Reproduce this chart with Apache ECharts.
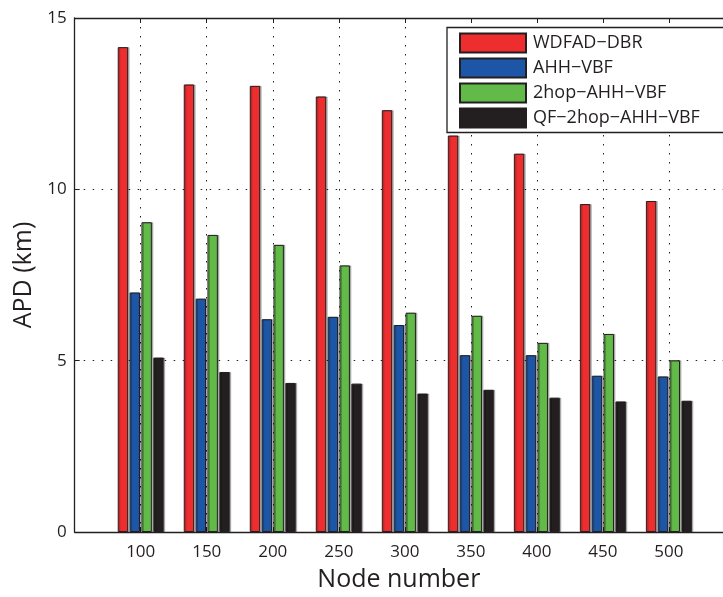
<!DOCTYPE html>
<html><head><meta charset="utf-8">
<script src="https://cdn.jsdelivr.net/npm/echarts@6/dist/echarts.min.js"></script>
<style>html,body{margin:0;padding:0;background:#fff}#c{width:723px;height:597px}</style>
</head><body><div id="c"></div>
<script>
const categories = [100, 150, 200, 250, 300, 350, 400, 450, 500];
const seriesNames = ['WDFAD\u2212DBR','AHH\u2212VBF','2hop\u2212AHH\u2212VBF','QF\u22122hop\u2212AHH\u2212VBF'];
const wdfad = [14.15, 13.06, 13.02, 12.71, 12.31, 11.57, 11.04, 9.57, 9.66];
const ahh = [6.99, 6.81, 6.21, 6.28, 6.04, 5.16, 5.16, 4.56, 4.54];
const hop2 = [9.04, 8.67, 8.38, 7.78, 6.40, 6.31, 5.52, 5.78, 5.01];
const qf = [5.09, 4.67, 4.35, 4.33, 4.04, 4.15, 3.92, 3.81, 3.83];
const yTicks = [0, 5, 10, 15];
const xTicks = [50, 541];   // x range (axis extends beyond the cropped right edge)
const colors = ['#EE2D2E', '#1D56A6', '#62BA48', '#231F20'];

const FONT = '"Open Sans", sans-serif';
const chart = echarts.init(document.getElementById('c'));
const gridLine = {show: true, lineStyle: {color: '#231F20', type: [1.5, 7.5], width: 1}};
const allData = [wdfad, ahh, hop2, qf];
const xAxisBase = {
  type: 'value', min: xTicks[0], max: xTicks[1], interval: 50,
  axisLine: {show: true, onZero: false, lineStyle: {color: '#231F20', width: 1.3}},
  axisTick: {show: true, inside: true, length: 5, lineStyle: {color: '#231F20'}}
};
chart.setOption({
  animation: false,
  textStyle: {fontFamily: FONT},
  grid: {left: 74.7, top: 18, bottom: 59.7, right: 0, containLabel: false},
  legend: {
    data: seriesNames,
    orient: 'vertical',
    left: 447, top: 27.5,
    itemWidth: 66, itemHeight: 19, itemGap: 4,
    padding: [5, 40, 4, 12],
    borderColor: '#231F20', borderWidth: 1.3,
    backgroundColor: '#fff',
    textStyle: {fontSize: 18, lineHeight: 19, color: '#231F20', fontFamily: FONT, padding: [0, 0, 0, 2]},
    icon: 'rect'
  },
  xAxis: [Object.assign({}, xAxisBase, {
    position: 'bottom',
    name: 'Node number', nameLocation: 'middle', nameGap: 35,
    nameTextStyle: {fontSize: 25, color: '#231F20', fontFamily: FONT},
    axisLabel: {fontSize: 17, color: '#231F20', margin: 12, fontFamily: FONT,
      showMinLabel: false, showMaxLabel: false,
      formatter: v => categories.indexOf(v) >= 0 ? String(v) : ''},
    splitLine: gridLine
  }), Object.assign({}, xAxisBase, {
    position: 'top',
    axisLabel: {show: false}, splitLine: {show: false}
  })],
  yAxis: {
    type: 'value', min: yTicks[0], max: yTicks[yTicks.length - 1], interval: 5,
    name: 'APD (km)', nameLocation: 'middle', nameGap: 36,
    nameTextStyle: {fontSize: 25, color: '#231F20', fontFamily: FONT},
    axisLine: {show: true, lineStyle: {color: '#231F20', width: 1.3}},
    axisTick: {show: true, inside: true, length: 5, lineStyle: {color: '#231F20'}},
    axisLabel: {fontSize: 17, color: '#231F20', margin: 8, fontFamily: FONT},
    splitLine: gridLine
  },
  series: seriesNames.map((n, i) => ({
    name: n, type: 'bar', xAxisIndex: 0,
    data: categories.map((c, j) => [c, allData[i][j]]),
    barWidth: 10.4, barGap: '14%',
    itemStyle: {color: colors[i], borderColor: '#231F20', borderWidth: 1,
      shadowColor: 'rgba(0,0,0,0.25)', shadowOffsetX: 1.5, shadowOffsetY: 0, shadowBlur: 0}
  }))
});
</script></body></html>
